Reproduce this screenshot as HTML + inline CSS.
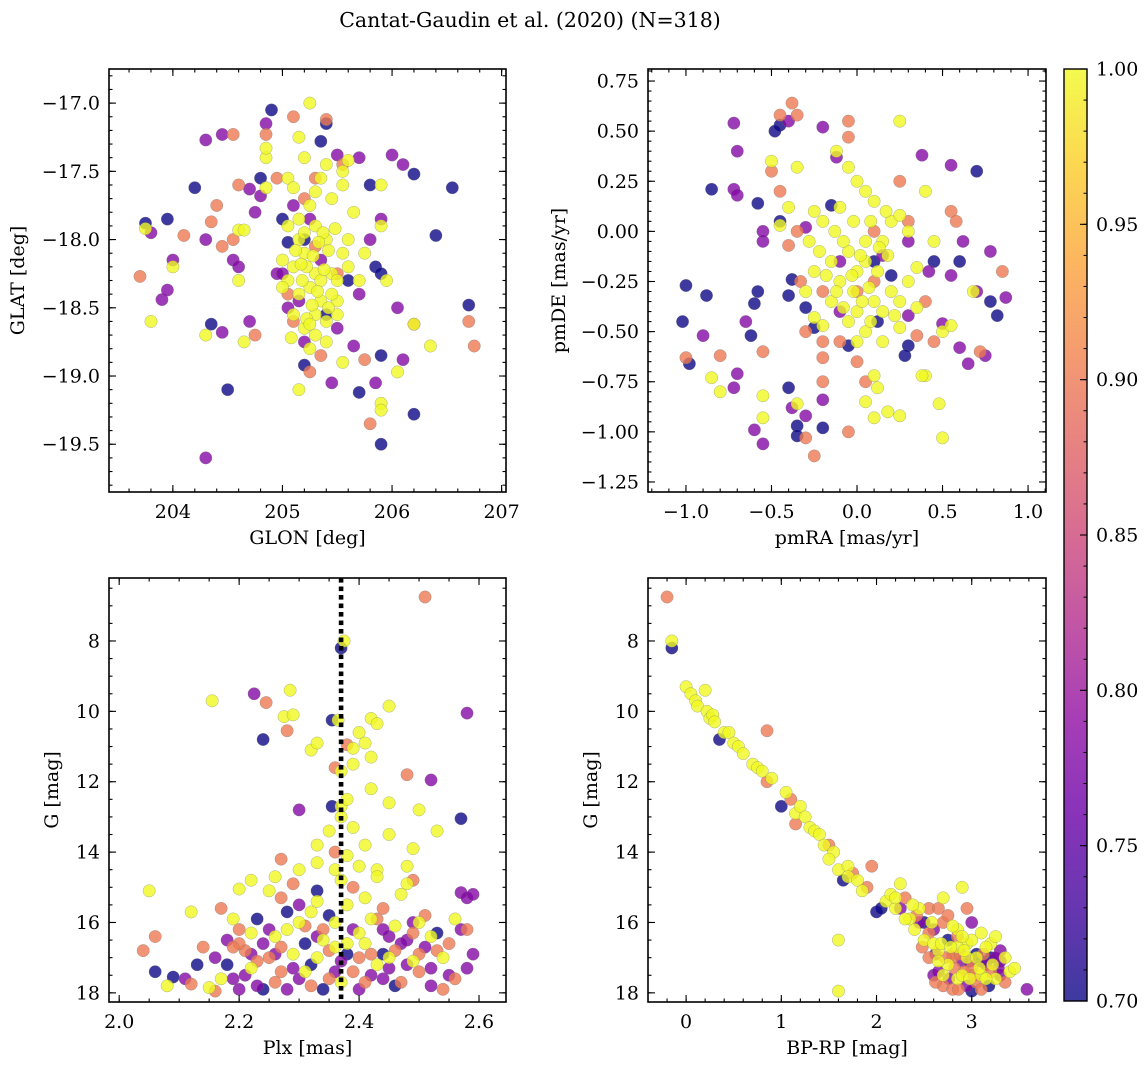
<!DOCTYPE html>
<html><head><meta charset="utf-8"><style>
html,body{margin:0;padding:0;background:#fff;}
svg{display:block;font-family:"DejaVu Serif","Liberation Serif",serif;}
</style></head><body>
<svg id="fig" width="1148" height="1068" viewBox="0 0 1148 1068">
<text x="530" y="27" font-size="20.5" text-anchor="middle">Cantat-Gaudin et al. (2020) (N=318)</text>
</svg>
<script>
// ---- data: [x, y, membership probability] ----
const glonGlat = [
[204.9,-17.05,.7],[205.4,-17.15,.7],[205.35,-17.28,.7],[205.8,-17.6,.7],[206.55,-17.62,.7],[206.2,-17.52,.7],[204.8,-17.55,.7],[203.95,-17.85,.7],[203.75,-17.88,.7],[204.2,-17.62,.7],[205.05,-18.02,.7],[205.85,-18.2,.7],[205.9,-18.25,.7],[206.4,-17.97,.7],[206.7,-18.48,.7],[205.4,-18.55,.7],[205.2,-18.92,.7],[205.9,-18.85,.7],[205.7,-19.12,.7],[205.9,-19.5,.7],[206.2,-19.28,.7],[204.5,-19.1,.7],[204.35,-18.62,.7],[205.6,-18.3,.7],[205.2,-18.0,.7],[205.0,-17.85,.7],
[204.45,-17.23,.78],[204.3,-17.27,.78],[204.85,-17.15,.78],[205.7,-17.4,.78],[205.5,-17.38,.78],[206.0,-17.38,.78],[206.1,-17.45,.78],[204.75,-17.8,.78],[204.7,-17.63,.78],[204.8,-17.68,.78],[205.1,-17.75,.78],[203.8,-17.95,.78],[204.0,-18.15,.78],[203.9,-18.44,.78],[203.95,-18.37,.78],[204.3,-18.0,.78],[204.55,-18.15,.78],[204.95,-18.25,.78],[205.05,-18.5,.78],[204.45,-18.68,.78],[204.7,-18.6,.78],[205.35,-18.15,.78],[205.7,-18.4,.78],[205.5,-18.65,.78],[205.65,-18.78,.78],[205.85,-19.05,.78],[205.45,-19.05,.78],[206.05,-18.5,.78],[206.1,-18.88,.78],[205.8,-18.0,.78],[205.9,-17.85,.78],[204.3,-19.6,.78],[205.2,-18.75,.78],[204.6,-18.2,.78],[205.0,-18.25,.78],[205.15,-18.45,.78],[205.25,-17.85,.78],
[204.55,-17.23,.9],[204.85,-17.23,.9],[205.4,-17.12,.9],[205.55,-17.45,.9],[205.3,-17.55,.9],[204.4,-17.75,.9],[204.35,-17.87,.9],[204.1,-17.97,.9],[203.7,-18.27,.9],[204.45,-18.05,.9],[204.55,-18.0,.9],[204.6,-17.6,.9],[204.75,-18.7,.9],[205.1,-18.6,.9],[205.35,-18.85,.9],[205.75,-18.88,.9],[205.8,-19.35,.9],[206.7,-18.6,.9],[206.75,-18.78,.9],[206.2,-18.62,.9],[205.25,-18.97,.9],[205.5,-18.25,.9],[205.1,-17.1,.9],[204.95,-17.55,.9],[205.05,-18.4,.9],[205.3,-18.05,.9],[205.2,-17.7,.9],
[205.25,-17.0,1],[205.15,-17.25,1],[205.2,-17.4,1],[205.05,-17.55,1],[205.35,-17.55,1],[205.45,-17.7,1],[205.25,-17.75,1],[205.6,-17.42,1],[205.55,-17.6,1],[205.9,-17.6,1],[205.9,-17.9,1],[205.15,-17.85,1],[205.3,-17.9,1],[205.4,-18.0,1],[205.2,-18.1,1],[205.1,-18.2,1],[205.3,-18.25,1],[205.45,-18.25,1],[205.25,-18.35,1],[205.15,-18.4,1],[205.35,-18.45,1],[205.05,-18.3,1],[205.0,-18.35,1],[205.55,-18.1,1],[205.6,-18.2,1],[205.7,-18.3,1],[205.4,-18.6,1],[205.2,-18.65,1],[205.3,-18.55,1],[205.25,-18.8,1],[205.4,-18.75,1],[205.15,-19.1,1],[205.55,-18.9,1],[205.9,-19.2,1],[205.9,-19.25,1],[206.2,-18.62,1],[206.35,-18.78,1],[206.05,-18.97,1],[204.85,-17.4,1],[204.85,-17.62,1],[204.85,-17.33,1],[204.6,-17.93,1],[204.6,-18.3,1],[204.65,-18.75,1],[204.3,-18.7,1],[203.75,-17.92,1],[203.8,-18.6,1],[204.0,-18.2,1],[204.65,-17.93,1],[205.65,-17.8,1],[205.75,-18.1,1],[205.05,-17.9,1],[205.0,-18.15,1],[205.1,-18.55,1],[205.15,-18.0,1],[205.5,-18.45,1],[205.6,-18.0,1],[205.95,-18.3,1],[205.35,-18.3,1],[205.45,-18.4,1],
[205.22,-18.2,1],[205.28,-18.12,1],[205.32,-18.38,1],[205.18,-18.3,1],[205.38,-18.22,1],[205.42,-18.08,1],[205.12,-18.08,1],[205.27,-18.48,1],[205.22,-18.58,1],[205.37,-17.95,1],[205.48,-17.92,1],[205.2,-17.95,1],[205.3,-17.65,1],[205.4,-17.45,1],[205.1,-17.62,1],[205.5,-18.55,1],[205.3,-18.7,1],[205.08,-18.72,1],[205.55,-17.5,1],[205.42,-18.5,1],[205.17,-18.18,1],[205.33,-18.02,1],[205.5,-18.3,1],[205.25,-18.62,1]
];
const pmraPmde = [
[-0.45,0.53,.7],[-0.48,0.5,.7],[-0.85,0.21,.7],[-1.0,-0.27,.7],[-1.02,-0.45,.7],[-0.98,-0.66,.7],[-0.88,-0.32,.7],[-0.58,-0.3,.7],[-0.6,-0.36,.7],[-0.62,-0.52,.7],[-0.58,0.14,.7],[-0.38,-0.24,.7],[-0.4,-0.32,.7],[-0.3,-0.38,.7],[-0.25,-0.48,.7],[-0.4,-0.78,.7],[-0.35,-0.97,.7],[-0.35,-1.02,.7],[-0.2,-0.98,.7],[-0.45,0.05,.7],[0.3,-0.57,.7],[0.2,-0.22,.7],[0.7,0.3,.7],[0.45,-0.15,.7],[0.6,-0.15,.7],[0.78,-0.35,.7],[0.82,-0.42,.7],[0.28,-0.62,.7],[-0.05,-0.57,.7],[0.12,-0.45,.7],[-0.15,0.13,.7],[0.1,-0.15,.7],
[-0.72,0.54,.78],[-0.7,0.4,.78],[-0.72,0.21,.78],[-0.7,0.18,.78],[-0.4,0.55,.78],[-0.2,0.52,.78],[-0.12,0.37,.78],[0.38,0.38,.78],[0.55,0.33,.78],[-0.55,-0.05,.78],[-0.55,0.0,.78],[-0.9,-0.52,.78],[-0.7,-0.71,.78],[-0.72,-0.78,.78],[-0.6,-0.99,.78],[-0.55,-1.06,.78],[-0.38,-0.88,.78],[-0.3,-0.92,.78],[-0.2,-0.84,.78],[0.42,-0.2,.78],[0.55,-0.22,.78],[0.5,-0.46,.78],[0.6,-0.58,.78],[0.62,-0.05,.78],[0.7,-0.3,.78],[0.75,-0.62,.78],[0.78,-0.1,.78],[0.87,-0.33,.78],[0.65,-0.66,.78],[0.3,-0.42,.78],[-0.1,-0.4,.78],[-0.1,-0.15,.78],[0.15,-0.12,.78],[0.3,-0.05,.78],[-0.3,0.02,.78],[-0.65,-0.45,.78],
[-0.38,0.64,.9],[-0.45,0.58,.9],[-0.35,0.58,.9],[-0.05,0.55,.9],[-0.05,0.47,.9],[-0.45,0.2,.9],[-0.5,0.3,.9],[-1.0,-0.63,.9],[-0.8,-0.62,.9],[-0.3,-1.03,.9],[-0.25,-1.12,.9],[-0.05,-1.0,.9],[-0.2,-0.75,.9],[-0.2,-0.63,.9],[-0.2,-0.55,.9],[-0.2,-0.3,.9],[-0.4,-0.07,.9],[-0.35,0.0,.9],[-0.3,-0.5,.9],[0.35,-0.52,.9],[0.55,0.1,.9],[0.58,0.05,.9],[0.85,-0.2,.9],[0.72,-0.6,.9],[0.45,-0.55,.9],[0.4,-0.35,.9],[0.3,0.05,.9],[0.25,0.25,.9],[0.1,0.0,.9],[0.0,-0.3,.9],[-0.1,-0.55,.9],[0.0,-0.65,.9],[0.05,-0.75,.9],[-0.55,-0.6,.9],[-0.33,-0.25,.9],[0.1,-0.25,.9],
[0.25,0.55,1],[-0.12,0.4,1],[-0.05,0.32,1],[0.0,0.25,1],[-0.5,0.35,1],[-0.35,0.32,1],[0.4,0.2,1],[-0.25,0.1,1],[-0.2,0.05,1],[-0.1,0.12,1],[0.05,0.2,1],[0.1,0.15,1],[0.2,0.05,1],[0.25,0.08,1],[0.3,0.0,1],[0.15,-0.05,1],[0.05,-0.05,1],[-0.05,-0.1,1],[-0.15,-0.15,1],[-0.25,-0.2,1],[-0.3,-0.3,1],[-0.1,-0.25,1],[0.0,-0.2,1],[0.05,-0.15,1],[0.12,-0.2,1],[0.2,-0.3,1],[0.25,-0.35,1],[0.1,-0.35,1],[0.0,-0.4,1],[-0.05,-0.45,1],[-0.15,-0.35,1],[-0.25,-0.43,1],[-0.2,-0.47,1],[0.05,-0.5,1],[0.15,-0.55,1],[0.25,-0.48,1],[0.5,-0.5,1],[0.55,-0.47,1],[0.68,-0.3,1],[0.4,-0.72,1],[0.38,-0.72,1],[0.1,-0.72,1],[0.12,-0.78,1],[0.05,-0.85,1],[0.1,-0.93,1],[0.18,-0.9,1],[0.25,-0.92,1],[0.5,-1.03,1],[0.48,-0.86,1],[-0.35,-0.86,1],[-0.8,-0.8,1],[-0.85,-0.73,1],[-0.55,-0.82,1],[-0.55,-0.93,1],[-0.45,0.03,1],[-0.08,-0.05,1],[0.35,-0.18,1],[0.45,-0.05,1],[-0.4,0.12,1],[-0.22,-0.1,1],[0.08,0.05,1],[-0.02,-0.3,1],[0.15,-0.4,1],
[0.02,-0.12,1],[-0.03,-0.22,1],[0.07,-0.28,1],[0.18,-0.12,1],[-0.12,-0.3,1],[0.03,-0.35,1],[0.13,-0.08,1],[-0.08,-0.38,1],[0.22,-0.42,1],[-0.18,-0.22,1],[0.08,-0.45,1],[-0.02,0.05,1],[0.17,0.1,1],[-0.13,0.0,1],[0.3,-0.25,1],[0.35,-0.38,1],[-0.28,-0.05,1],[0.0,-0.55,1]
];
const plxG = [
[2.51,6.75,.9],[2.375,8.0,1],[2.37,8.2,.7],[2.155,9.7,1],[2.225,9.5,.78],[2.245,9.75,.9],[2.285,9.4,1],[2.58,10.05,.78],[2.275,10.15,1],[2.29,10.1,1],[2.355,10.25,.7],[2.365,10.25,1],[2.42,10.2,1],[2.43,10.35,1],[2.45,9.85,1],[2.24,10.8,.7],[2.28,10.55,.9],[2.32,11.1,1],[2.33,10.9,1],[2.38,10.95,.9],[2.39,11.05,1],[2.4,10.6,1],[2.41,10.9,1],[2.42,11.3,1],[2.39,11.5,1],[2.36,11.6,.9],[2.37,11.7,1],[2.48,11.8,.9],[2.52,11.95,.78],[2.3,12.8,.78],[2.355,12.7,.7],[2.37,12.7,1],[2.38,12.5,1],[2.45,12.6,1],[2.42,12.2,1],[2.5,12.8,1],[2.37,13.0,1],[2.39,13.3,1],[2.53,13.4,1],[2.57,13.05,.7],[2.35,13.4,1],[2.33,13.8,1],[2.36,14.0,.9],[2.38,14.1,1],[2.41,13.8,1],[2.45,13.5,1],[2.49,13.9,1],[2.3,14.5,1],[2.27,14.2,.9],[2.33,14.3,1],[2.26,14.7,1],[2.36,14.5,1],[2.4,14.4,1],[2.43,14.5,1],[2.48,14.4,1],[2.49,14.8,.9],[2.22,14.8,1],[2.2,15.05,1],[2.05,15.1,1],[2.57,15.15,.78],[2.58,15.3,.78],[2.48,14.9,1],
[2.06,17.4,.7],[2.09,17.55,.7],[2.08,17.8,1],[2.04,16.8,.9],[2.06,16.4,.9],[2.11,17.6,.78],[2.12,17.75,.9],[2.13,17.2,.7],[2.14,16.7,.9],[2.12,15.7,1],[2.15,17.85,1],[2.16,17.95,.9],[2.17,15.6,.9],[2.18,16.5,.78],[2.19,17.6,.78],[2.2,17.9,.78],[2.21,16.8,.9],[2.2,16.2,.9],[2.22,17.3,1],[2.23,15.9,.7],[2.24,16.6,.78],[2.25,17.0,.9],[2.23,17.8,.78],[2.26,16.4,1],[2.27,17.4,.9],[2.28,15.7,.7],[2.29,16.9,1],[2.3,17.6,.78],[2.31,16.1,.9],[2.32,17.2,.7],[2.33,15.4,1],[2.34,16.5,1],[2.35,15.8,.7],[2.35,16.8,.9],[2.36,17.4,.78],[2.34,17.9,.7],[2.38,15.5,1],[2.39,16.2,.78],[2.4,17.0,.9],[2.41,16.6,1],[2.42,17.5,.78],[2.43,15.9,.9],[2.44,16.9,.7],[2.45,17.3,.78],[2.46,16.1,1],[2.47,17.7,.9],[2.48,16.5,.78],[2.49,17.1,1],[2.5,16.0,1],[2.51,16.7,.78],[2.5,17.4,.9],[2.52,17.8,.78],[2.53,16.3,.7],[2.54,17.0,1],[2.55,16.6,.9],[2.56,17.6,.9],[2.57,16.2,.78],[2.58,17.3,.78],[2.59,15.2,.78],[2.58,16.2,.9],[2.59,16.9,.78],[2.3,16.0,1],[2.25,15.1,1],[2.27,15.3,.9],[2.37,14.8,1],[2.39,15.0,.9],[2.41,15.3,1],[2.44,15.6,.9],[2.47,15.2,1],[2.43,14.7,1],[2.29,14.9,.9],[2.33,15.1,.7],[2.18,17.2,.7],[2.16,17.0,.78],[2.2,16.6,.9],[2.24,17.9,.7],[2.28,17.9,.78],[2.32,17.8,.9],[2.37,17.7,1],[2.4,17.9,.78],[2.46,17.8,.7],[2.54,17.9,.9],[2.55,17.5,.78],[2.45,16.4,.78],[2.42,15.9,1],[2.38,16.6,1],[2.36,16.0,1],[2.33,16.4,.78],[2.31,17.4,1],[2.26,16.9,.78],[2.22,16.3,1],[2.19,15.9,1],[2.17,17.6,1],[2.52,16.4,1],[2.49,16.3,.9],[2.47,16.6,.78],[2.51,15.8,.9],[2.56,15.9,1],
[2.21,17.5,.78],[2.23,17.1,.9],[2.25,16.2,.78],[2.27,16.7,.9],[2.29,17.3,.78],[2.31,16.6,.7],[2.33,17.0,1],[2.34,16.2,.9],[2.36,16.7,1],[2.37,17.1,.78],[2.39,17.4,.9],[2.4,16.3,1],[2.42,16.9,.9],[2.43,17.2,1],[2.44,16.2,.78],[2.46,16.8,.9],[2.48,17.2,.78],[2.5,16.9,.9],[2.52,17.3,.78],[2.53,16.8,.9],[2.28,16.2,1],[2.32,15.7,1],[2.38,16.9,.7],[2.41,17.7,.9],[2.45,17.0,1],[2.26,17.7,.9],[2.22,16.9,.78],[2.19,16.7,.9],[2.35,17.6,.9],[2.44,17.6,.78],[2.49,16.0,.78],[2.3,15.5,.78]
];
const bprpG = [
[-0.2,6.75,.9],[-0.15,8.0,1],[-0.15,8.2,.7],[0.0,9.3,1],[0.05,9.5,1],[0.1,9.7,1],[0.12,9.85,1],[0.2,9.4,1],[0.22,10.0,1],[0.25,10.2,1],[0.28,10.1,1],[0.3,10.3,1],[0.35,10.8,.7],[0.4,10.6,1],[0.45,10.6,1],[0.5,10.9,1],[0.55,11.0,1],[0.6,11.2,1],[0.7,11.5,1],[0.75,11.6,1],[0.8,11.7,1],[0.85,12.0,.9],[0.9,11.9,1],[0.85,10.55,.9],[1.0,12.7,.7],[1.05,12.3,1],[1.1,12.5,.9],[1.15,12.9,1],[1.15,13.2,.9],[1.2,12.7,1],[1.25,13.0,1],[1.3,13.3,1],[1.35,13.4,1],[1.4,13.5,1],[1.45,13.8,1],[1.5,13.8,.9],[1.55,14.0,1],[1.5,14.2,1],[1.6,14.5,1],[1.65,14.8,.7],[1.7,14.4,1],[1.7,14.7,1],[1.75,14.6,.9],[1.8,14.8,1],[1.85,15.1,1],[1.9,15.0,.9],[1.95,14.4,.9],[2.0,15.7,.7],[2.05,15.6,.7],[2.1,15.4,1],[2.15,15.2,1],[2.2,15.6,1],[2.25,14.9,1],[2.3,15.3,.9],[2.35,15.9,1],[2.4,16.2,1],[2.45,16.0,.78],[2.5,16.5,1],[2.55,15.6,.9],[2.6,16.2,.78],[2.65,16.8,1],[2.7,15.3,1],[2.75,16.5,.7],[2.8,16.9,.9],[2.85,16.2,1],[2.9,17.1,.78],[2.95,16.6,1],[3.0,17.3,.9],[3.05,16.9,.7],[3.1,17.5,1],[3.15,17.2,.78],[3.2,17.0,.7],[3.25,17.6,1],[3.3,17.1,.78],[3.35,17.7,.9],[3.4,17.4,1],[3.45,17.3,1],[3.58,17.9,.78],[1.6,16.5,1],[1.6,17.95,1],[2.6,17.5,.78],[2.7,17.8,.9],[2.8,17.9,.9],[2.85,17.6,1],[2.95,17.8,.78],[3.0,17.95,.7],[3.05,17.7,.9],[3.1,17.9,.9],[3.15,17.6,1],[2.9,17.5,1],[3.0,16.5,1],[3.0,16.0,.78],[2.95,15.6,.9],[3.1,16.3,1],[3.2,16.6,1],[3.25,16.4,1],[3.3,16.8,.78],[3.35,17.0,1],[2.75,17.2,1],[2.65,17.4,.78],[2.7,16.0,.9],[2.6,16.6,1],[2.55,17.0,.9],[2.85,16.7,1],[2.9,16.4,1],[2.8,16.1,1],[2.5,16.0,.7],[2.45,15.6,1],[2.3,15.9,1],[2.65,15.6,.9],[2.75,15.8,.9],[2.9,15.0,1],[3.1,17.1,.7],[3.2,17.4,.9],[3.3,17.5,.78],[2.95,17.0,1],[3.05,17.0,1],[2.65,17.1,1],[2.8,17.0,.9],
[2.55,16.3,.9],[2.62,16.9,.78],[2.68,16.6,1],[2.72,17.0,.9],[2.78,16.7,1],[2.82,17.3,.9],[2.88,16.9,.9],[2.92,16.8,1],[2.98,17.1,.78],[3.02,17.5,.9],[3.08,17.3,1],[3.12,16.9,.9],[3.18,17.8,.7],[3.22,17.2,1],[3.28,17.3,.78],[2.7,17.5,1],[2.76,17.6,.78],[2.86,17.9,.9],[2.92,17.4,.9],[2.98,17.6,1],[2.48,16.7,.9],[2.58,16.0,1],[2.42,15.8,.9],[2.38,15.5,1],[2.25,15.6,.78],[2.2,15.3,1],[2.85,16.4,.9],[3.15,16.7,1],[3.25,17.0,.78],[2.62,17.7,.9]
];
const plxMedian = [2.37];
const ticksP1x = [204,205,206,207], ticksP1y = [-17.0,-17.5,-18.0,-18.5,-19.0,-19.5];
const ticksP2x = [-1.0,-0.5,0.0,0.5,1.0], ticksP2y = [0.75,0.50,0.25,0.00,-0.25,-0.50,-0.75,-1.00,-1.25];
const ticksP3x = [2.0,2.2,2.4,2.6], ticksMagY = [8,10,12,14,16,18];
const ticksP4x = [0,1,2,3];
const ticksCbar = [0.70,0.75,0.80,0.85,0.90,0.95,1.00];

const NS = 'http://www.w3.org/2000/svg';
const svg = document.getElementById('fig');
const FS = 19;
function mk(tag, attrs, parent) {
  const e = document.createElementNS(NS, tag);
  for (const k in attrs) e.setAttribute(k, attrs[k]);
  (parent || svg).appendChild(e);
  return e;
}
const stops = ['#0d0887','#41049d','#6a00a8','#8f0da4','#b12a90','#cc4778','#e16462','#f2844b','#fca636','#fcce25','#f0f921'];
function hex(h){return [parseInt(h.substr(1,2),16),parseInt(h.substr(3,2),16),parseInt(h.substr(5,2),16)];}
function plasma(t){
  t = Math.max(0, Math.min(1, t));
  const f = t*10, i = Math.min(9, Math.floor(f)), u = f - i;
  const a = hex(stops[i]), b = hex(stops[i+1]);
  return 'rgb(' + a.map((v,k)=>Math.round(v+(b[k]-v)*u)).join(',') + ')';
}
const cmin = 0.7, cmax = 1.0;
function fmt(v, d){ const s = v.toFixed(d); return s.replace('-', '\u2212'); }

function panel(cfg) {
  const g = mk('g', {});
  
  
  const sx = v => cfg.l + (v - cfg.x0) / (cfg.x1 - cfg.x0) * (cfg.r - cfg.l);
  const sy = cfg.invY ? (v => cfg.t + (v - cfg.y0) / (cfg.y1 - cfg.y0) * (cfg.b - cfg.t))
                      : (v => cfg.b - (v - cfg.y0) / (cfg.y1 - cfg.y0) * (cfg.b - cfg.t));
  const pts = mk('g', {}, g);
  
  
  const sorted = cfg.data.slice().sort((a,b)=>a[2]-b[2]);
  sorted.forEach(d => {
    const c = mk('circle', {cx: sx(d[0]), cy: sy(d[1]), r: 6.2, fill: plasma((d[2]-cmin)/(cmax-cmin)), 'fill-opacity': 0.8, stroke: '#777', 'stroke-width': 0.4, 'stroke-opacity': 0.7}, pts);
    
    
  });
  if (cfg.vline !== undefined) {
    const vx = sx(cfg.vline);
    const dl = mk('g', {fill: '#000'}, g);
    
    
    for (let y = cfg.t; y < cfg.b; y += 8.5) {
      mk('rect', {x: vx - 2.3, y: y, width: 4.6, height: Math.min(4.6, cfg.b - y)}, dl);
    }
  }
  const fr = mk('rect', {x: cfg.l, y: cfg.t, width: cfg.r - cfg.l, height: cfg.b - cfg.t, fill: 'none', stroke: '#000', 'stroke-width': 1.6}, g);
  
  
  const tk = mk('g', {stroke: '#000', 'stroke-width': 1.1}, g);
  
  
  const lo = Math.min(cfg.x0,cfg.x1), hi = Math.max(cfg.x0,cfg.x1);
  for (let v = Math.ceil(lo/cfg.mx - 1e-6)*cfg.mx; v <= hi + 1e-9; v += cfg.mx) {
    const x = sx(v);
    mk('line', {x1:x,x2:x,y1:cfg.b,y2:cfg.b-3.5}, tk); mk('line', {x1:x,x2:x,y1:cfg.t,y2:cfg.t+3.5}, tk);
  }
  const ylo = Math.min(cfg.y0,cfg.y1), yhi = Math.max(cfg.y0,cfg.y1);
  for (let v = Math.ceil(ylo/cfg.my - 1e-6)*cfg.my; v <= yhi + 1e-9; v += cfg.my) {
    const y = sy(v);
    mk('line', {x1:cfg.l,x2:cfg.l+3.5,y1:y,y2:y}, tk); mk('line', {x1:cfg.r,x2:cfg.r-3.5,y1:y,y2:y}, tk);
  }
  cfg.xt.forEach(v => {
    const x = sx(v);
    mk('line', {x1:x,x2:x,y1:cfg.b,y2:cfg.b-7}, tk); mk('line', {x1:x,x2:x,y1:cfg.t,y2:cfg.t+7}, tk);
    const t = mk('text', {x: x, y: cfg.b + 26, 'font-size': FS, 'text-anchor': 'middle'}, g);
    t.textContent = fmt(v, cfg.xd);
    
    
  });
  cfg.yt.forEach(v => {
    const y = sy(v);
    mk('line', {x1:cfg.l,x2:cfg.l+7,y1:y,y2:y}, tk); mk('line', {x1:cfg.r,x2:cfg.r-7,y1:y,y2:y}, tk);
    const t = mk('text', {x: cfg.l - 9, y: y + 6.5, 'font-size': FS, 'text-anchor': 'end'}, g);
    t.textContent = fmt(v, cfg.yd);
    
    
  });
  const xl = mk('text', {x: (cfg.l+cfg.r)/2, y: cfg.b + 52, 'font-size': FS, 'text-anchor': 'middle'}, g);
  xl.textContent = cfg.xlabel;
  
  
  const yx = cfg.ylx, yy = (cfg.t+cfg.b)/2;
  const yl = mk('text', {x: yx, y: yy, 'font-size': FS, 'text-anchor': 'middle', transform: 'rotate(-90 ' + yx + ' ' + yy + ')'}, g);
  yl.textContent = cfg.ylabel;
  
  
}

panel({name:'sky-position-panel', data: glonGlat, l:109, r:506, t:69, b:492, x0:203.417, x1:207.04, y0:-19.85, y1:-16.75, mx:0.2, my:0.1, xt:ticksP1x, yt:ticksP1y, xd:0, yd:1, xlabel:'GLON [deg]', ylabel:'GLAT [deg]', ylx:24});
panel({name:'proper-motion-panel', data: pmraPmde, l:648, r:1046, t:69, b:492, x0:-1.222, x1:1.105, y0:-1.30, y1:0.81, mx:0.1, my:0.05, xt:ticksP2x, yt:ticksP2y, xd:1, yd:2, xlabel:'pmRA [mas/yr]', ylabel:'pmDE [mas/yr]', ylx:565});
panel({name:'parallax-magnitude-panel', data: plxG, l:109, r:506, t:578, b:1002, x0:1.983, x1:2.645, y0:6.21, y1:18.26, invY:true, mx:0.05, my:0.5, xt:ticksP3x, yt:ticksMagY, xd:1, yd:0, xlabel:'Plx [mas]', ylabel:'G [mag]', ylx:58, vline: plxMedian[0]});
panel({name:'color-magnitude-panel', data: bprpG, l:648, r:1046, t:578, b:1002, x0:-0.4, x1:3.78, y0:6.21, y1:18.26, invY:true, mx:0.2, my:0.5, xt:ticksP4x, yt:ticksMagY, xd:0, yd:0, xlabel:'BP-RP [mag]', ylabel:'G [mag]', ylx:597});

// colorbar
(function(){
  const L = 1064, R = 1087, T = 69, B = 1001;
  const g = mk('g', {});
  
  
  const defs = mk('defs', {}, g);
  const lg = mk('linearGradient', {id: 'cb', x1: 0, y1: 1, x2: 0, y2: 0}, defs);
  for (let i = 0; i <= 20; i++) mk('stop', {offset: (i/20), 'stop-color': plasma(i/20), 'stop-opacity': 0.8}, lg);
  const r = mk('rect', {x: L, y: T, width: R-L, height: B-T, fill: 'url(#cb)', stroke: '#000', 'stroke-width': 1.4}, g);
  
  
  const sy = v => B - (v - cmin) / (cmax - cmin) * (B - T);
  for (let v = 0.70; v <= 1.0001; v += 0.01) mk('line', {x1: R, x2: R-3.5, y1: sy(v), y2: sy(v), stroke: '#000', 'stroke-width': 1}, g);
  ticksCbar.forEach(v => {
    mk('line', {x1: R, x2: R-7, y1: sy(v), y2: sy(v), stroke: '#000', 'stroke-width': 1.1}, g);
    const t = mk('text', {x: R + 9, y: sy(v) + 6.5, 'font-size': FS}, g);
    t.textContent = v.toFixed(2);
    
    
  });
})();
</script>
</body></html>
